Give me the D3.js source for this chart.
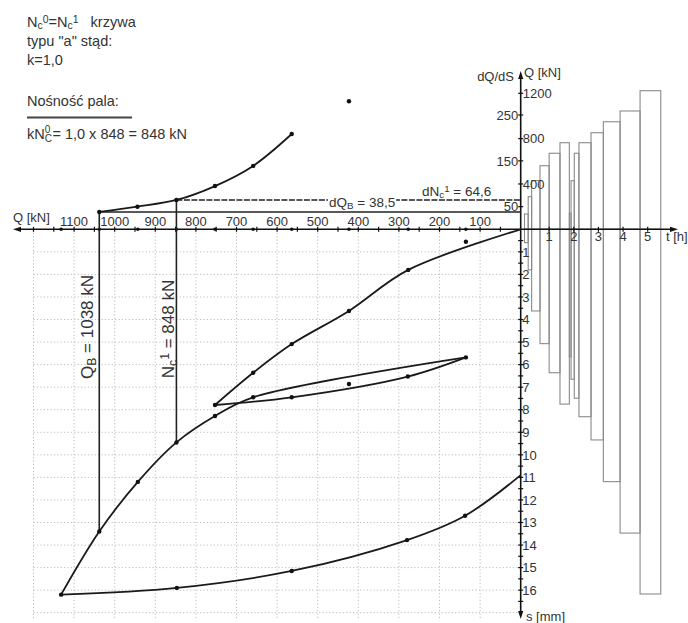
<!DOCTYPE html>
<html>
<head>
<meta charset="utf-8">
<script src="https://cdn.jsdelivr.net/npm/d3@7"></script>
<style>
body { margin: 0; background: #fff; }
svg text { font-family: "Liberation Sans", Arial, sans-serif; fill: #333; }
</style>
</head>
<body>
<svg></svg>
<script>
// Q-s test, values (Q in kN, s in mm)
let loadQ = [0, 135, 277, 423, 564, 659, 753]
let loadS = [0, 0.55, 1.80, 3.62, 5.09, 6.36, 7.79]
let loadFit = [1, 0, 1, 1, 1, 1, 1]

let unloadQ = [753, 564, 278, 135]
let unloadS = [7.79, 7.45, 6.53, 5.68]

let reloadQ = [135, 423, 659, 753, 848, 943, 1038, 1132]
let reloadS = [5.68, 6.86, 7.45, 8.28, 9.45, 11.2, 13.4, 16.2]
let reloadFit = [1, 0, 1, 1, 1, 1, 1, 1]

let finalQ = [1132, 847, 564, 280, 137, 0]
let finalS = [16.2, 15.9, 15.15, 13.78, 12.7, 10.9]

// dQ/dS against Q
let slopeQ = [1038, 944, 848, 753, 659, 564]
let slopeV = [38.5, 50, 64.6, 95, 139, 208.5]
let slopeExtraQ = [423]
let slopeExtraV = [280]

let QB = 1038, dQB = 38.5, sQB = 13.4
let Nc = 848, dNc = 64.6, sNc = 9.45

// load steps in time
let stepT = [0, 0.15, 0.29, 0.63, 1.0, 1.44, 1.82, 1.89, 2.02, 2.21, 2.7, 3.2, 3.88, 4.69, 5.53]
let stepQ = [135, 288, 430, 561, 671, 764, 141, 429, 671, 764, 852, 949, 1044, 1223]
let stepS = [0.59, 1.80, 3.62, 5.07, 6.36, 7.75, 5.65, 6.65, 7.49, 8.31, 9.34, 11.19, 13.47, 16.17]

let qLabels = [100, 200, 300, 400, 500, 600, 700, 800, 900, 1000, 1100]
let sLabels = [1, 2, 3, 4, 5, 6, 7, 8, 9, 10, 11, 12, 13, 14, 15, 16]
let tLabels = [1, 2, 3, 4, 5]
let qUpLabels = [400, 800, 1200]
let vLabels = [50, 150, 250]

let width = 688
let height = 623

let svg = d3.select("svg").attr("width", width).attr("height", height)

let xQ = d3.scaleLinear().domain([0, 1200]).range([520.7, 33.5])
let yS = d3.scaleLinear().domain([0, 17]).range([229.3, 612.7])
let yQ = d3.scaleLinear().domain([0, 1200]).range([229.3, 93.3])
let yV = d3.scaleLinear().domain([0, 250]).range([229.6, 115])
let xT = d3.scaleLinear().domain([0, 5]).range([524.5, 647.7])

let ax = xQ(0)
let ay = yS(0)

// grid
let gridG = svg.append("g").attr("stroke", "#bdbdbd").attr("stroke-width", 1).attr("stroke-dasharray", "1.2,2.2")
d3.range(100, 1201, 100).forEach(q => {
    gridG.append("line").attr("x1", xQ(q)).attr("x2", xQ(q)).attr("y1", ay).attr("y2", yS(17.3))
})
d3.range(1, 18).forEach(s => {
    gridG.append("line").attr("x1", xQ(1200)).attr("x2", ax).attr("y1", yS(s)).attr("y2", yS(s))
})

// load / settlement bars
let bars = stepQ.map((q, i) => ({t0: stepT[i], t1: stepT[i + 1], q: q, s: stepS[i]}))

svg.append("g").selectAll("rect").data(bars).enter().append("rect")
    .attr("x", d => xT(d.t0))
    .attr("width", d => xT(d.t1) - xT(d.t0))
    .attr("y", d => yQ(d.q))
    .attr("height", d => yQ(0) - yQ(d.q))
    .attr("fill", "none")
    .attr("stroke", "#8a8a8a").attr("stroke-width", 1.1)

svg.append("g").selectAll("rect").data(bars).enter().append("rect")
    .attr("x", d => xT(d.t0))
    .attr("width", d => xT(d.t1) - xT(d.t0))
    .attr("y", ay)
    .attr("height", d => yS(d.s) - ay)
    .attr("fill", "none")
    .attr("stroke", "#8a8a8a").attr("stroke-width", 1.1)

// axes
let axisG = svg.append("g").attr("stroke", "#111").attr("stroke-width", 1.6)
axisG.append("line").attr("x1", 17).attr("x2", 674).attr("y1", ay).attr("y2", ay)
axisG.append("line").attr("x1", ax).attr("x2", ax).attr("y1", 76).attr("y2", 614)

let arrow = (x, y, dx, dy) => {
    let px = -dy, py = dx
    svg.append("path")
        .attr("d", "M" + x + "," + y + "L" + (x - dx * 8 + px * 2.6) + "," + (y - dy * 8 + py * 2.6) +
            "L" + (x - dx * 8 - px * 2.6) + "," + (y - dy * 8 - py * 2.6) + "Z")
        .attr("fill", "#111")
}
arrow(13, ay, -1, 0)
arrow(678, ay, 1, 0)
arrow(ax, 71, 0, -1)
arrow(ax, 619, 0, 1)

// Q ticks (every 50 kN) and load dots on the axis
let tickG = svg.append("g").attr("stroke", "#111").attr("stroke-width", 1.2)
d3.range(50, 1201, 50).forEach(q => {
    tickG.append("line").attr("x1", xQ(q)).attr("x2", xQ(q)).attr("y1", ay - 2.5).attr("y2", ay + 2.5)
})
d3.range(0.5, 17, 0.5).forEach(s => {
    tickG.append("line").attr("x1", ax - 2.5).attr("x2", ax + 2.5).attr("y1", yS(s)).attr("y2", yS(s))
})
tLabels.forEach(t => {
    tickG.append("line").attr("x1", xT(t)).attr("x2", xT(t)).attr("y1", ay - 2.5).attr("y2", ay + 2.5)
})
qUpLabels.forEach(q => {
    tickG.append("line").attr("x1", ax - 2.5).attr("x2", ax + 2.5).attr("y1", yQ(q)).attr("y2", yQ(q))
})
vLabels.forEach(v => {
    tickG.append("line").attr("x1", ax - 2.5).attr("x2", ax + 2.5).attr("y1", yV(v)).attr("y2", yV(v))
})

svg.append("g").selectAll("circle").data(loadQ.slice(1).concat(reloadQ.slice(4))).enter().append("circle")
    .attr("cx", d => xQ(d)).attr("cy", ay).attr("r", 1.8).attr("fill", "#111")

// tick labels
let labG = svg.append("g").style("font-size", "13px")
qLabels.forEach(q => {
    labG.append("text").attr("x", xQ(q)).attr("y", ay - 3).attr("text-anchor", "middle").text(q)
})
sLabels.forEach(s => {
    labG.append("text").attr("x", ax + 1.5).attr("y", yS(s)).attr("dy", "0.36em").text(s)
})
tLabels.forEach(t => {
    labG.append("text").attr("x", xT(t)).attr("y", ay + 12).attr("text-anchor", "middle").text(t)
})
qUpLabels.forEach(q => {
    labG.append("text").attr("x", ax + 2).attr("y", yQ(q)).attr("dy", "0.36em").text(q)
})
vLabels.forEach(v => {
    labG.append("text").attr("x", ax - 2.5).attr("y", yV(v)).attr("dy", "0.36em").attr("text-anchor", "end").text(v)
})
labG.append("text").attr("x", 13).attr("y", 222).text("Q [kN]")
labG.append("text").attr("x", 524).attr("y", 77).text("Q [kN]")
labG.append("text").attr("x", 514).attr("y", 81).attr("text-anchor", "end").text("dQ/dS")
labG.append("text").attr("x", 666).attr("y", 241).text("t [h]")
labG.append("text").attr("x", 526).attr("y", 621).text("s [mm]")

// helper lines at Nc and QB
let helpG = svg.append("g").attr("stroke", "#222").attr("stroke-width", 1.6).attr("fill", "none")
helpG.append("line").attr("x1", xQ(QB)).attr("x2", ax).attr("y1", yV(dQB)).attr("y2", yV(dQB))
helpG.append("line").attr("x1", xQ(Nc)).attr("x2", ax).attr("y1", yV(dNc)).attr("y2", yV(dNc))
    .attr("stroke-dasharray", "6,1.5")
helpG.append("line").attr("x1", xQ(QB)).attr("x2", xQ(QB)).attr("y1", yV(dQB)).attr("y2", yS(sQB))
helpG.append("line").attr("x1", xQ(Nc)).attr("x2", xQ(Nc)).attr("y1", yV(dNc)).attr("y2", yS(sNc))

// curves
let qsLine = d3.line().x(d => xQ(d[0])).y(d => yS(d[1])).curve(d3.curveCatmullRom.alpha(0.5))
let vLine = d3.line().x(d => xQ(d[0])).y(d => yV(d[1])).curve(d3.curveCatmullRom.alpha(0.5))

let zip = (a, b) => a.map((v, i) => [v, b[i]])
let fit = (pts, flags) => pts.filter((p, i) => flags[i])

let loadPts = zip(loadQ, loadS)
let unloadPts = zip(unloadQ, unloadS)
let reloadPts = zip(reloadQ, reloadS)
let finalPts = zip(finalQ, finalS)
let slopePts = zip(slopeQ, slopeV)

let curveG = svg.append("g").attr("fill", "none").attr("stroke", "#1a1a1a").attr("stroke-width", 1.8)
curveG.append("path").attr("d", qsLine(fit(loadPts, loadFit)))
curveG.append("path").attr("d", qsLine(unloadPts))
curveG.append("path").attr("d", qsLine(fit(reloadPts, reloadFit)))
curveG.append("path").attr("d", qsLine(finalPts))
curveG.append("path").attr("d", vLine(slopePts))

let dotPts = loadPts.slice(1).concat(unloadPts.slice(1), reloadPts.slice(1), finalPts.slice(1, -1))
svg.append("g").selectAll("circle").data(dotPts).enter().append("circle")
    .attr("cx", d => xQ(d[0])).attr("cy", d => yS(d[1])).attr("r", 2.2).attr("fill", "#111")
svg.append("g").selectAll("circle").data(slopePts.concat(zip(slopeExtraQ, slopeExtraV))).enter().append("circle")
    .attr("cx", d => xQ(d[0])).attr("cy", d => yV(d[1])).attr("r", 2.2).attr("fill", "#111")

// text with sub / superscripts
let rich = (g, parts) => {
    parts.forEach(p => {
        let ts = g.append("tspan").text(p[0])
        if (p[1] == "sub") ts.attr("baseline-shift", "-22%").style("font-size", "0.72em")
        if (p[1] == "sup") ts.attr("baseline-shift", "42%").style("font-size", "0.72em")
    })
    return g
}

// dQB label sits on the dashed line with a white box under it
let dqbText = rich(svg.append("text").attr("x", 329).attr("y", 207).style("font-size", "13.5px"),
    [["dQ"], ["B", "sub"], [" = 38,5"]])
let bb = dqbText.node().getBBox()
svg.insert("rect", () => dqbText.node())
    .attr("x", bb.x - 1).attr("y", bb.y + 2).attr("width", bb.width + 2).attr("height", bb.height - 3)
    .attr("fill", "#fff")

rich(svg.append("text").attr("x", 422).attr("y", 196).style("font-size", "13.5px"),
    [["dN"], ["c", "sub"], ["1", "sup"], [" = 64,6"]])

rich(svg.append("text").attr("transform", "translate(93,327) rotate(-90)").attr("text-anchor", "middle")
    .style("font-size", "17px"), [["Q"], ["B", "sub"], [" = 1038 kN"]])
rich(svg.append("text").attr("transform", "translate(174,329) rotate(-90)").attr("text-anchor", "middle")
    .style("font-size", "17px"), [["N"], ["c", "sub"], ["1", "sup"], [" = 848 kN"]])

// notes top left
let noteG = svg.append("g").style("font-size", "14.5px")
rich(noteG.append("text").attr("x", 27).attr("y", 27), [["N"], ["c", "sub"], ["0", "sup"], ["=N"], ["c", "sub"], ["1", "sup"], ["\u00a0\u00a0 krzywa"]])
noteG.append("text").attr("x", 27).attr("y", 46).text("typu \"a\" stąd:")
noteG.append("text").attr("x", 27).attr("y", 65).text("k=1,0")
noteG.append("text").attr("x", 27).attr("y", 106).text("Nośność pala:")
svg.append("line").attr("x1", 27).attr("x2", 132).attr("y1", 117.5).attr("y2", 117.5)
    .attr("stroke", "#444").attr("stroke-width", 2)
// kN with stacked 0 over C
let kText = noteG.append("text").attr("x", 27).attr("y", 138.5)
kText.append("tspan").text("kN")
kText.append("tspan").text("0").style("font-size", "10px").attr("dy", -6)
kText.append("tspan").text("C").style("font-size", "10px").attr("dx", -5.6).attr("dy", 9)
kText.append("tspan").text("= 1,0 x 848 = 848 kN").attr("dx", 0.5).attr("dy", -3)
</script>
</body>
</html>
